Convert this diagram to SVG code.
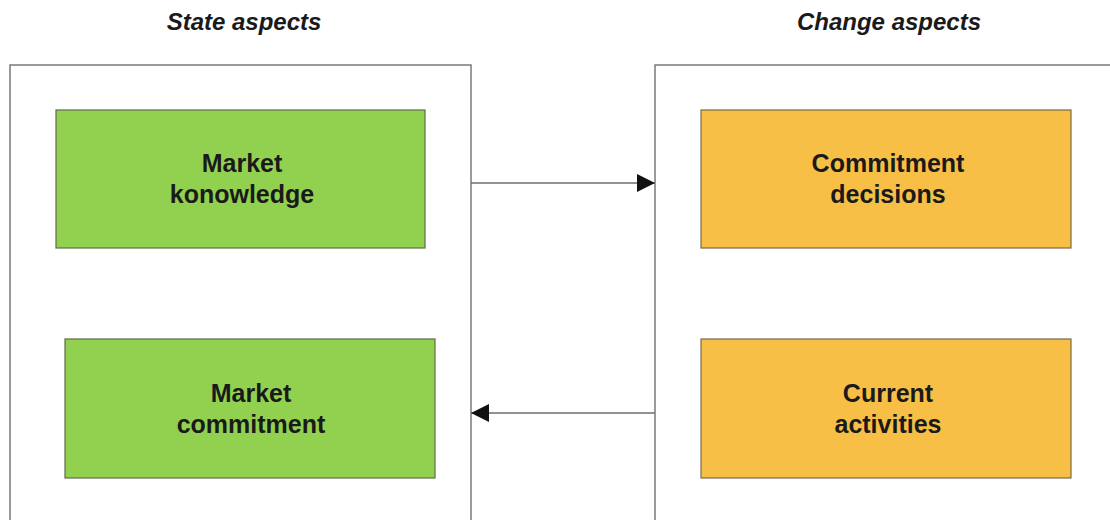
<svg xmlns="http://www.w3.org/2000/svg" width="1110" height="520" viewBox="0 0 1110 520">
<style>
.title{font-family:"Liberation Sans",Arial,sans-serif;font-size:24px;font-weight:bold;font-style:italic;fill:#1a1a1a;text-anchor:middle}
.lbl{font-family:"Liberation Sans",Arial,sans-serif;font-size:25px;font-weight:bold;fill:#1a1a1a;text-anchor:middle}
.container{fill:#fff;stroke:#7a7a7a;stroke-width:1.5}
.green{fill:#92d14f;stroke:#5f6b4a;stroke-width:1.2}
.orange{fill:#f7bf45;stroke:#7a6a4a;stroke-width:1.2}
.conn{stroke:#6e6e6e;stroke-width:1.5;fill:none}
</style>
<defs>
<marker id="ah" viewBox="0 0 10 10" refX="10" refY="5" markerWidth="26" markerHeight="18" markerUnits="userSpaceOnUse" orient="auto">
<path d="M0,0 L10,5 L0,10 z" fill="#111"/>
</marker>
</defs>
<rect width="1110" height="520" fill="#fff"/>
<text class="title" x="244" y="30">State aspects</text>
<text class="title" x="889" y="30">Change aspects</text>
<g id="state-container"><rect class="container" x="10" y="65" width="461" height="470"/></g>
<g id="change-container"><rect class="container" x="655" y="65" width="470" height="470"/></g>
<g id="market-knowledge">
<rect class="green" x="56" y="110" width="369" height="138"/>
<text class="lbl" x="242" y="172">Market</text>
<text class="lbl" x="242" y="203">konowledge</text>
</g>
<g id="market-commitment">
<rect class="green" x="65" y="339" width="370" height="139"/>
<text class="lbl" x="251" y="402">Market</text>
<text class="lbl" x="251" y="433">commitment</text>
</g>
<g id="commitment-decisions">
<rect class="orange" x="701" y="110" width="370" height="138"/>
<text class="lbl" x="888" y="172">Commitment</text>
<text class="lbl" x="888" y="203">decisions</text>
</g>
<g id="current-activities">
<rect class="orange" x="701" y="339" width="370" height="139"/>
<text class="lbl" x="888" y="402">Current</text>
<text class="lbl" x="888" y="433">activities</text>
</g>
<g id="connectors">
<line class="conn" x1="471" y1="183" x2="655" y2="183" marker-end="url(#ah)"/>
<line class="conn" x1="655" y1="413" x2="471" y2="413" marker-end="url(#ah)"/>
</g>
</svg>
